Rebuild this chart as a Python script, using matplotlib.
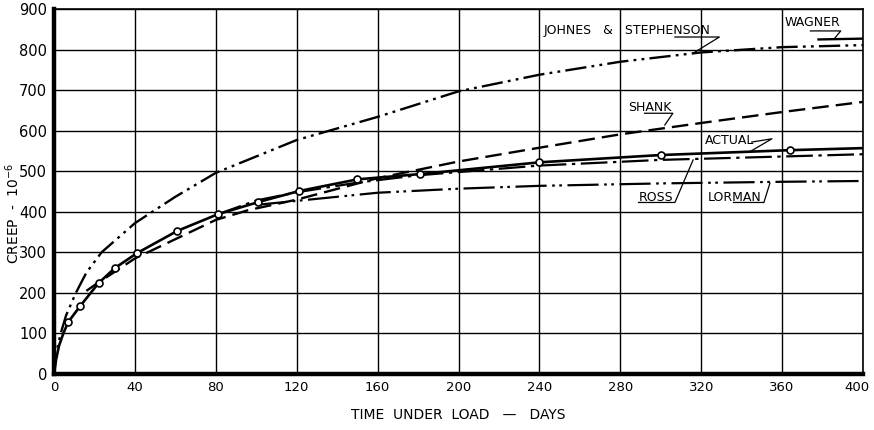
import matplotlib
matplotlib.use('Agg')
import matplotlib.pyplot as plt
import matplotlib.transforms as mtransforms

# --- DATA ---

actual_days = [0, 1, 2.5, 4.6, 7, 13, 22, 30, 41, 61, 81, 101, 121, 150, 181, 240, 300, 364, 400]
actual_creep = [0, 35, 70, 100, 128, 168, 224, 261, 298, 353, 394, 424, 451, 480, 493, 522, 540, 552, 557]
actual_marked = slice(4, -1)

johnes_days = [0, 1, 3.3, 6, 10.8, 16, 23.5, 40, 60, 80, 120, 160, 200, 240, 280, 320, 360, 400]
johnes_creep = [0, 50, 100, 145, 200, 250, 300, 372, 437, 496, 577, 634, 697, 738, 770, 793, 806, 811]

shank_days = [16, 20, 40, 80, 96, 120, 160, 200, 240, 280, 320, 360, 400]
shank_creep = [205, 219, 285, 380, 404, 430, 483, 524, 558, 591, 619, 646, 671]

ross_days = [80, 100, 120, 150, 180, 240, 300, 365, 400]
ross_creep = [392, 428, 448, 472, 490, 514, 528, 537, 542]

lorman_days = [100, 120, 160, 200, 240, 300, 360, 400]
lorman_creep = [417, 427, 447, 457, 464, 470, 474, 476]

wagner_days = [378, 400]
wagner_creep = [825, 827]

x_ticks = list(range(0, 401, 40))
y_ticks = list(range(0, 901, 100))

# --- CHART ---

fig = plt.figure(figsize=(8.74, 4.30), dpi=100)
ax = fig.add_axes([0.0618, 0.1302, 0.9256, 0.8488])

ax.plot(johnes_days, johnes_creep, color='black', lw=1.7,
        linestyle=(0, (9, 2.2, 1.2, 2.2, 1.2, 2.2)))
ax.plot(shank_days, shank_creep, color='black', lw=1.7, linestyle=(0, (7, 3)))
ax.plot(ross_days, ross_creep, color='black', lw=1.6, linestyle=(0, (12, 2.5, 1.5, 2.5)))
ax.plot(lorman_days, lorman_creep, color='black', lw=1.6,
        linestyle=(0, (14, 2.5, 1.2, 2, 1.2, 2.5)))
ax.plot(wagner_days, wagner_creep, color='black', lw=1.7)
ax.plot(actual_days, actual_creep, color='black', lw=1.9, marker='o', markersize=5,
        markerfacecolor='white', markeredgecolor='black', markeredgewidth=1.2,
        markevery=actual_marked)

ax.set_xlim(0, 400)
ax.set_ylim(0, 900)
ax.set_xticks(x_ticks)
ax.set_yticks(y_ticks)
ax.set_xticklabels([str(t) for t in x_ticks], fontsize=9.5)
ax.set_yticklabels([str(t) for t in y_ticks], fontsize=10.5)
ax.tick_params(length=0)
ax.tick_params(axis='x', pad=5)
ax.tick_params(axis='y', pad=5)
ax.grid(True, color='black', lw=1.0)
ax.set_axisbelow(True)

# last x label sits a little left so it stays inside the picture
last = ax.get_xticklabels()[-1]
last.set_transform(last.get_transform() +
                   mtransforms.ScaledTranslation(-6 / 100, 0, fig.dpi_scale_trans))

for side in ['left', 'bottom']:
    ax.spines[side].set_linewidth(3.2)
for side in ['top', 'right']:
    ax.spines[side].set_linewidth(1.2)

ax.set_xlabel('TIME  UNDER  LOAD   \u2014   DAYS', fontsize=10, labelpad=10)
ax.set_ylabel(r'CREEP  -  $\mathregular{10^{-6}}$', fontsize=10, labelpad=8)
ax.yaxis.set_label_coords(-0.040, 0.44)

# --- CURVE LABELS WITH LEADER LINES ---

lead = dict(color='black', lw=0.9)

ax.text(242, 848, 'JOHNES   &   STEPHENSON', fontsize=9, va='center', ha='left')
ax.plot([307, 329, 316], [831, 831, 791], **lead)

ax.text(361, 868, 'WAGNER', fontsize=9, va='center', ha='left')
ax.plot([374, 389, 386], [846, 846, 828], **lead)

ax.text(284, 658, 'SHANK', fontsize=9, va='center', ha='left')
ax.plot([292, 306, 302], [643, 643, 614], **lead)

ax.text(322, 577, 'ACTUAL', fontsize=9, va='center', ha='left')
ax.plot([345, 355, 344], [572, 580, 548], **lead)

ax.text(289, 436, 'ROSS', fontsize=9, va='center', ha='left')
ax.plot([289, 307, 316], [423, 423, 528], **lead)

ax.text(323, 436, 'LORMAN', fontsize=9, va='center', ha='left')
ax.plot([336, 351, 354], [423, 423, 471], **lead)

plt.savefig('out.png', dpi=100)
plt.close()
